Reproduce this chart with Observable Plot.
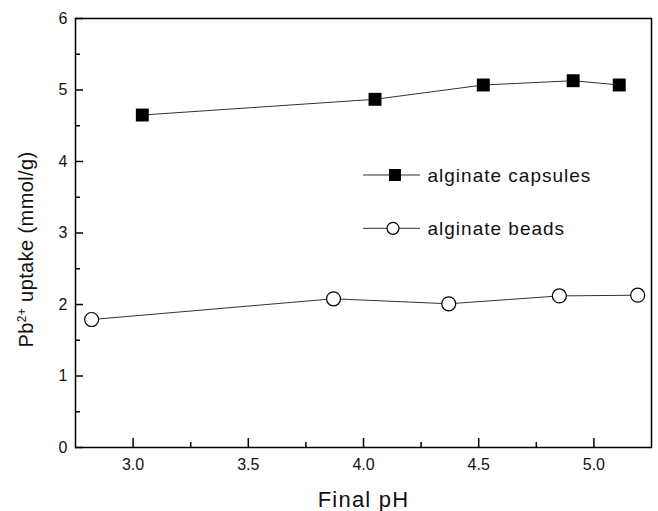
<!DOCTYPE html>
<html>
<head>
<meta charset="utf-8">
<script src="https://cdn.jsdelivr.net/npm/d3@7"></script>
<script src="https://cdn.jsdelivr.net/npm/@observablehq/plot@0.6"></script>
<style>
  html, body { margin: 0; padding: 0; background: #fff; }
  #chart { width: 658px; height: 511px; }
</style>
</head>
<body>
<div id="chart"></div>
<script>
// Data
const capsulesPH = [3.04, 4.05, 4.52, 4.91, 5.11];
const capsulesUptake = [4.65, 4.87, 5.07, 5.13, 5.07];
const beadsPH = [2.82, 3.87, 4.37, 4.85, 5.19];
const beadsUptake = [1.79, 2.08, 2.01, 2.12, 2.13];

const xMajor = [3.0, 3.5, 4.0, 4.5, 5.0];
const xMinor = [3.25, 3.75, 4.25, 4.75];
const yMajor = [0, 1, 2, 3, 4, 5, 6];
const yMinor = [0.5, 1.5, 2.5, 3.5, 4.5, 5.5];

const seriesNames = ["alginate capsules", "alginate beads"];
const xTitle = "Final pH";
const yTitle = "Pb2+ uptake (mmol/g)";

const capsules = capsulesPH.map((x, i) => ({x, y: capsulesUptake[i]}));
const beads = beadsPH.map((x, i) => ({x, y: beadsUptake[i]}));

const W = 658, H = 511;
const mL = 75, mR = 7, mT = 18, mB = 64;
const plotW = W - mL - mR, plotH = H - mT - mB;
const font = "'Liberation Sans', Arial, Helvetica, sans-serif";

const chart = Plot.plot({
  width: W,
  height: H,
  marginLeft: mL,
  marginRight: mR,
  marginTop: mT,
  marginBottom: mB,
  style: {fontFamily: font, fontSize: "16px", color: "#000", background: "#fff"},
  x: {domain: [2.75, 5.25]},
  y: {domain: [0, 6]},
  marks: [
    Plot.axisX({ticks: xMajor, tickSize: 0, tickPadding: 11, tickFormat: d3.format(".1f"), label: null, fontSize: 16, fill: "#111"}),
    Plot.axisY({ticks: yMajor, tickSize: 0, tickPadding: 8, tickFormat: d3.format("d"), label: null, fontSize: 16, fill: "#111"}),
    // inward ticks
    Plot.tickX(xMajor, {x: d => d, insetTop: plotH - 9, stroke: "#000", strokeWidth: 1.5}),
    Plot.tickX(xMinor, {x: d => d, insetTop: plotH - 5, stroke: "#000", strokeWidth: 1.5}),
    Plot.tickY(yMajor, {y: d => d, insetRight: plotW - 8, stroke: "#000", strokeWidth: 1.5}),
    Plot.tickY(yMinor, {y: d => d, insetRight: plotW - 5, stroke: "#000", strokeWidth: 1.5}),
    Plot.frame({stroke: "#000", strokeWidth: 1.5}),
    // series
    Plot.line(capsules, {x: "x", y: "y", stroke: "#333", strokeWidth: 1}),
    Plot.dot(capsules, {x: "x", y: "y", symbol: "square", r: 7.3, fill: "#000", stroke: "none"}),
    Plot.line(beads, {x: "x", y: "y", stroke: "#333", strokeWidth: 1}),
    Plot.dot(beads, {x: "x", y: "y", symbol: "circle", r: 7, fill: "#fff", stroke: "#000", strokeWidth: 1.2}),
    // legend labels (frame-relative offsets)
    Plot.text([seriesNames[0]], {frameAnchor: "top-left", dx: 352, dy: 157, textAnchor: "start", lineAnchor: "middle", fontSize: 19, fill: "#111"}),
    Plot.text([seriesNames[1]], {frameAnchor: "top-left", dx: 352, dy: 210.5, textAnchor: "start", lineAnchor: "middle", fontSize: 19, fill: "#111"}),
    // axis titles
    Plot.text([xTitle], {frameAnchor: "bottom", dy: 44, lineAnchor: "top", fontSize: 22, fill: "#111"}),
    Plot.text([yTitle], {frameAnchor: "left", dx: -49, dy: 16.5, rotate: -90, textAnchor: "middle", lineAnchor: "middle", fontSize: 20, fill: "#111"})
  ]
});

// legend sample lines and markers placed relative to the frame
const svg = d3.select(chart);
const leg = svg.append("g").attr("class", "legend-samples");
const rows = [
  {cy: mT + 157, symbol: "square", mx: mL + 320},
  {cy: mT + 210.3, symbol: "circle", mx: mL + 318}
];
rows.forEach(r => {
  leg.append("line").attr("x1", mL + 288).attr("x2", mL + 345).attr("y1", r.cy).attr("y2", r.cy)
    .attr("stroke", "#333").attr("stroke-width", 1);
  if (r.symbol === "square") {
    leg.append("rect").attr("x", r.mx - 6).attr("y", r.cy - 6).attr("width", 12).attr("height", 12).attr("fill", "#000");
  } else {
    leg.append("circle").attr("cx", r.mx).attr("cy", r.cy).attr("r", 6).attr("fill", "#fff").attr("stroke", "#000").attr("stroke-width", 1.2);
  }
});

// text widths in the reference are a little wider: add letter spacing
svg.selectAll("text").each(function() {
  const s = this.textContent;
  if (s === seriesNames[0] || s === seriesNames[1]) d3.select(this).style("letter-spacing", "1px");
  if (s === xTitle) d3.select(this).style("letter-spacing", "1.2px");
  if (s === yTitle) {
    const t = d3.select(this);
    t.style("letter-spacing", "0.4px");
    t.text(null);
    t.append("tspan").text("Pb");
    t.append("tspan").attr("baseline-shift", "super").attr("font-size", "12px").text("2+");
    t.append("tspan").text(" uptake (mmol/g)");
  }
});

document.getElementById("chart").appendChild(chart);
</script>
</body>
</html>
